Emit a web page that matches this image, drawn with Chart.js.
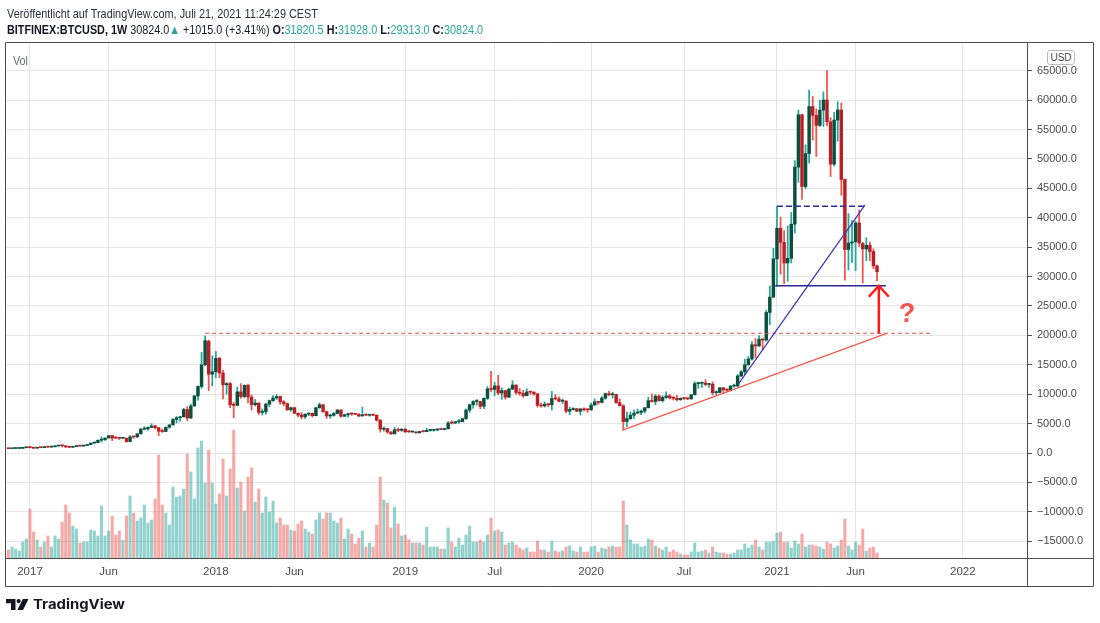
<!DOCTYPE html>
<html>
<head>
<meta charset="utf-8">
<script src="https://cdn.jsdelivr.net/npm/chart.js@4.4.1/dist/chart.umd.min.js"></script>
<style>
html,body{margin:0;padding:0;background:#fff;}
#wrap{position:relative;width:1100px;height:623px;overflow:hidden;background:#fff;}
#c{position:absolute;left:0;top:0;}
.t{position:absolute;white-space:nowrap;transform-origin:0 0;font-family:'Liberation Sans',Arial,sans-serif;line-height:15px;}
.g{color:#26a69a;}
#usd{position:absolute;left:1047px;top:50px;width:26px;height:13px;border:1px solid #b8bbc4;border-radius:3px;background:#fff;
 font:10px 'Liberation Sans',Arial,sans-serif;color:#4a4a4a;text-align:center;line-height:13px;box-sizing:content-box;}
</style>
</head>
<body>
<div id="wrap">
<canvas id="c" width="1100" height="623"></canvas>
<div id="h1" class="t" style="left:7px;top:6px;font-size:13px;color:#2a2e39;">Veröffentlicht auf TradingView.com, Juli 21, 2021 11:24:29 CEST</div>
<div id="h2" class="t" style="left:7px;top:22px;font-size:13px;color:#131722;"><b>BITFINEX:BTCUSD, 1W</b> 30824.0<span class="g">▲</span> +1015.0 (+3.41%) <b>O:</b><span class="g">31820.5</span> <b>H:</b><span class="g">31928.0</span> <b>L:</b><span class="g">29313.0</span> <b>C:</b><span class="g">30824.0</span></div>
<div id="vol" class="t" style="left:13px;top:54px;font-size:12px;color:#6a6d78;">Vol</div>
<div id="usd">USD</div>
<svg style="position:absolute;left:6px;top:599px" width="23" height="11" viewBox="0 0 23 11">
  <path d="M0 0H9.5V11H5V4.2H0Z" fill="#131722"/>
  <circle cx="12.6" cy="2.1" r="2.1" fill="#131722"/>
  <path d="M16.8 0H22.5L17 11H11.4Z" fill="#131722"/>
</svg>
<div id="logo" class="t" style="left:33px;top:596px;font-family:Inter,'Liberation Sans',sans-serif;font-weight:700;font-size:13px;line-height:16px;color:#131722;">TradingView</div>
</div>
<script>
// ---- weekly bars, BITFINEX:BTCUSD, first bar = week of 2016-11-21 (bar index -6 relative to week of 2017-01-02)
const firstWeek = '2016-11-21';
const firstIndex = -6;

const open = [
740,732,768,775,790,890,998,905,820,922,
915,1020,1000,1055,1180,1270,1230,1025,970,1100,
1185,1175,1250,1420,1690,1770,2180,2250,2550,2950,
2550,2530,2500,2520,1950,2750,2730,3250,4050,4100,
4350,4600,4300,3700,3660,4380,4780,5700,6000,6150,
7400,5950,8000,9700,11300,15000,19000,13400,13800,16100,
13600,11600,11800,8200,8100,10400,9600,11500,9500,8200,
8500,6900,7000,8300,8900,9350,9600,8700,8400,7350,
7700,6750,6450,6150,6600,6750,6350,7700,8200,7030,
6300,6400,6700,7300,6250,6500,6700,6620,6580,6300,
6500,6420,6480,6420,5580,4050,4150,3550,3250,3950,
3850,4050,3600,3580,3590,3420,3660,3640,3850,3860,
3930,4000,3990,4120,5100,5080,5300,5330,5850,7300,
8200,8750,8760,7950,9300,10950,10800,11400,10200,10600,
9500,10850,11550,10300,10150,9750,10380,10350,10050,8100,
8000,8300,8200,9250,9200,8800,8830,7100,7400,7520,
7100,7500,7350,7320,8150,8700,8600,9350,10100,9900,
9950,8550,8030,5350,5850,6420,6780,6900,7130,7700,
8900,8750,9680,8900,9450,9700,9350,9300,9050,9300,
9250,9200,9900,11800,11850,11900,11650,11700,10250,10300,
11080,10750,10670,11370,11400,13100,13800,15000,15980,18400,
18200,19350,19200,23900,26500,33000,38200,35800,32300,33100,
38900,48600,57500,45300,50900,58900,57400,55700,58300,60000,
56300,49100,56600,58300,46500,34600,35700,35900,39100,35600,
34700,35300,34250,31820.5];

const high = [
750,775,780,795,940,1000,1150,915,930,935,
1040,1060,1060,1200,1290,1330,1260,1060,1110,1210,
1220,1260,1430,1700,1850,2200,2750,2600,2980,2990,
2780,2570,2650,2550,2950,2800,3300,4180,4480,4450,
4980,4700,4350,4100,4400,4800,5850,6200,6200,7600,
7880,8300,9750,11400,17100,19900,19200,16500,17250,16300,
14100,12000,12000,8600,11200,11800,11600,11700,9900,9100,
8500,7500,8500,9000,9750,9950,9700,8900,8500,7800,
7800,6850,6850,6650,6850,6800,7750,8500,8250,7150,
6600,6900,7400,7400,6600,6800,6800,6700,6700,7780,
6650,6500,6600,6500,5700,4450,4200,3650,4350,4250,
4150,4150,3800,3660,3620,3700,3720,4200,3900,3950,
4050,4100,4150,5350,5500,5400,5700,5900,7500,8300,
8900,9100,8800,9400,11300,13900,12000,13200,11100,10700,
11000,12300,11600,10950,10650,10900,10450,10400,10100,8500,
8700,8450,10500,9950,9550,9150,8850,7800,7700,7600,
7550,7700,7550,8500,9200,8800,9600,10200,10500,10300,
10000,9200,8200,6950,6950,7300,7450,7300,7750,9500,
10050,9950,9900,9750,10400,9980,9600,9800,9350,9450,
9400,9950,12100,12050,12100,12450,11800,12100,10600,11150,
11180,10950,11500,11720,13350,14050,15950,16400,18950,19450,
19900,19450,24300,28400,34800,41950,40100,37800,38600,40900,
49700,58300,57600,52400,61700,60600,58500,60000,61400,65000,
57000,57900,59700,59500,46600,40700,39500,39400,41300,35800,
36600,35900,34700,31928];

const low = [
725,728,755,770,785,885,880,750,815,880,
910,960,990,1050,1175,1000,950,890,960,1090,
1150,1170,1245,1420,1620,1720,1850,2150,2540,2100,
2490,2300,2470,1830,1900,2500,2630,3230,3950,3900,
4300,4100,2950,3500,3650,4200,4750,5100,5400,6100,
5500,5850,7950,9000,11000,14800,10600,11400,12800,12800,
9200,10000,7700,6000,8000,9300,9400,8500,7300,8000,
6500,6450,6600,7850,8750,9100,8300,8000,7250,7050,
6700,6150,5780,5850,6350,6100,6300,7600,6900,5880,
5900,6250,6650,6100,6150,6100,6400,6500,6150,6250,
6400,6250,6350,5400,3550,3700,3350,3150,3250,3600,
3680,3480,3520,3480,3380,3400,3560,3600,3700,3700,
3800,3950,3930,4100,4930,5000,5050,5300,5700,6900,
7600,8100,7500,7550,9100,10400,9700,9900,9100,9150,
9400,10800,9950,9800,9450,9700,9950,9850,7800,7800,
7800,7850,7300,9000,8700,8400,6800,6500,7250,7000,
6450,7150,6900,7300,8100,8250,8500,9100,9700,9300,
8450,8000,3850,4450,5700,5880,6750,6500,6800,7650,
8650,8200,8800,8650,9300,9200,9000,8850,8950,9100,
9050,9150,9850,11000,11150,11400,11150,9850,9900,10200,
10150,10400,10550,11200,11250,12950,13300,14900,15800,16200,
18100,17600,19000,21800,26400,28300,30400,28800,29200,32300,
37400,46000,43100,44900,49300,53200,50400,55500,55500,55600,
47000,48800,53000,43800,29400,31100,32400,31000,35100,28900,
32700,32700,31300,29313];

const close = [
732,768,775,790,890,998,905,820,920,915,
1020,1000,1055,1180,1270,1230,1025,970,1100,1180,
1175,1250,1420,1690,1770,2180,2250,2550,2950,2550,
2530,2500,2520,1950,2750,2730,3250,4050,4100,4350,
4600,4300,3700,3660,4380,4780,5700,6000,6150,7400,
5950,8000,9700,11300,15000,19100,13400,13800,16100,13600,
11600,11800,8200,8100,10400,9600,11500,9500,8200,8500,
6900,7000,8300,8900,9350,9600,8700,8400,7350,7700,
6750,6450,6150,6600,6750,6350,7700,8200,7030,6300,
6400,6700,7300,6250,6500,6700,6620,6580,6300,6500,
6420,6480,6420,5580,4050,4150,3550,3250,3950,3850,
4050,3600,3580,3590,3420,3660,3640,3850,3860,3930,
4000,3990,4120,5100,5080,5300,5330,5850,7300,8200,
8750,8760,7950,9300,10900,10800,11400,10200,10600,9500,
10850,11550,10300,10150,9750,10380,10350,10050,8100,8000,
8300,8200,9250,9200,8800,8830,7100,7400,7520,7100,
7500,7350,7320,8150,8700,8600,9350,10100,9900,9950,
8550,8030,5350,5850,6420,6780,6900,7130,7700,8900,
8750,9680,8900,9450,9700,9350,9300,9050,9300,9250,
9200,9900,11800,11850,11900,11650,11700,10250,10300,11080,
10750,10670,11370,11400,13100,13800,15000,15980,18400,18200,
19350,19200,23900,26500,33000,38200,35800,32300,33100,38900,
48600,57500,45300,50900,58900,57400,55700,58300,60000,56300,
49100,56600,58300,46500,34600,35700,35900,39100,35700,34700,
35300,34250,31800,30824];

// weekly volume, thousands of BTC
const volume = [
8,11,9,7,16,19,49,26,18,11,
16,22,11,22,19,36,53,45,32,29,
15,16,16,28,27,22,52,22,27,42,
23,27,18,42,62,45,37,40,53,35,
38,59,103,53,45,33,71,61,62,69,
104,86,59,110,117,75,108,75,54,64,
99,62,89,128,70,76,47,81,90,56,
69,45,61,46,57,35,40,33,33,28,
27,34,37,29,26,24,38,45,39,45,
45,37,35,40,19,29,24,14,20,27,
11,15,11,33,81,58,55,30,51,34,
22,23,18,15,15,15,13,31,11,11,
11,9,9,30,16,11,20,13,23,32,
16,16,18,16,23,40,27,28,26,13,
15,16,13,10,8,10,6,6,17,8,
8,6,17,7,6,7,11,12,7,6,
11,6,6,11,12,6,10,9,11,12,
11,11,57,33,18,14,14,11,12,19,
18,12,10,8,11,6,8,6,4,3,
3,6,15,6,7,8,5,11,6,5,
5,4,4,5,8,8,14,10,13,18,
11,8,16,16,17,25,26,16,16,10,
17,14,24,11,13,13,12,11,9,16,
14,10,12,18,39,12,8,16,13,29,
7,10,11,5];

// time axis: bar index of the labelled weeks
const xTickWeeks  = [0, 22, 52, 74, 105, 130, 157, 183, 209, 231, 261];
const xTickLabels = ['2017','Jun','2018','Jun','2019','Jul','2020','Jul','2021','Jun','2022'];
const priceTicks = [-15000,-10000,-5000,0,5000,10000,15000,20000,25000,30000,35000,40000,45000,50000,55000,60000,65000];

// drawn annotations (bar index, price)
const resistance   = {from: 49, to: 252.6, price: 20350};
const supportTrend = {x1: 165.8, p1: 3880, x2: 239.7, p2: 20340};
const steepTrend   = {x1: 198.2, p1: 11700, x2: 233.6, p2: 42150};
const rangeTop     = {from: 209, to: 233.6, price: 41950};
const rangeLow     = {from: 208.5, to: 239.5, price: 28430};
const arrowMark    = {x: 237.5, from: 20350, to: 28430};
const questionMark = {x: 245.4, price: 23600, text: '?'};

// ---- build
const barIndex = open.map((_, i) => firstIndex + i);
const isUp = open.map((o, i) => close[i] >= o);

const UP_BODY = '#0b4f3d', DN_BODY = '#bb1e24';
const UP_WICK = '#26a69a', DN_WICK = '#f0534f';
const UP_VOL = 'rgba(38,166,154,0.5)', DN_VOL = 'rgba(239,83,80,0.5)';

const fmtPrice = v => (v < 0 ? '\u2212' : '') + Math.abs(v).toFixed(1);

const annotPlugin = {
  id: 'annot',
  afterDatasetsDraw(chart) {
    const {ctx, chartArea: a} = chart;
    const xs = chart.scales.x, ys = chart.scales.y;
    const X = v => xs.getPixelForValue(v), Y = v => ys.getPixelForValue(v);
    ctx.save();
    ctx.beginPath(); ctx.rect(a.left, a.top, a.right - a.left, a.bottom - a.top); ctx.clip();
    const seg = (x1, y1, x2, y2, color, w, dash) => {
      ctx.beginPath(); ctx.setLineDash(dash || []); ctx.strokeStyle = color; ctx.lineWidth = w;
      ctx.moveTo(x1, y1); ctx.lineTo(x2, y2); ctx.stroke();
    };
    seg(X(resistance.from), Y(resistance.price), X(resistance.to), Y(resistance.price), '#d9534b', 1, [4, 3]);
    seg(X(supportTrend.x1), Y(supportTrend.p1), X(supportTrend.x2), Y(supportTrend.p2), '#f55a4e', 1.3);
    seg(X(steepTrend.x1), Y(steepTrend.p1), X(steepTrend.x2), Y(steepTrend.p2), '#3a35b0', 1.2);
    seg(X(rangeTop.from), Y(rangeTop.price), X(rangeTop.to), Y(rangeTop.price), '#2d2a9c', 1.5, [6, 3]);
    seg(X(rangeLow.from), Y(rangeLow.price), X(rangeLow.to), Y(rangeLow.price), '#2d2a8f', 1.5);
    // arrow
    const ax = X(arrowMark.x), ay0 = Y(arrowMark.from), ay1 = Y(arrowMark.to);
    seg(ax, ay0, ax, ay1, '#ff1a1a', 2.5);
    ctx.beginPath(); ctx.setLineDash([]); ctx.strokeStyle = '#ff1a1a'; ctx.lineWidth = 2.5;
    ctx.moveTo(ax - 10, ay1 + 11); ctx.lineTo(ax, ay1); ctx.lineTo(ax + 10, ay1 + 11); ctx.stroke();
    // question mark
    ctx.fillStyle = '#f0544c';
    ctx.font = 'bold 27px "Liberation Sans", Arial, sans-serif';
    ctx.textAlign = 'center'; ctx.textBaseline = 'middle';
    ctx.fillText(questionMark.text, X(questionMark.x), Y(questionMark.price));
    ctx.restore();
  },
  afterDraw(chart) {
    const {ctx, chartArea: a} = chart;
    const right = chart.scales.y.right, bottom = chart.scales.x.bottom;
    ctx.save();
    ctx.strokeStyle = '#4d4d4d'; ctx.lineWidth = 1; ctx.setLineDash([]);
    ctx.beginPath();
    const L = Math.round(a.left) - 0.5, T = Math.round(a.top) - 0.5;
    const R = Math.round(a.right) + 0.5, B = Math.round(a.bottom) + 0.5;
    const RR = Math.round(right) + 0.5, BB = Math.round(bottom) + 0.5;
    ctx.moveTo(L, T); ctx.lineTo(RR, T);
    ctx.moveTo(L, T); ctx.lineTo(L, BB);
    ctx.moveTo(RR, T); ctx.lineTo(RR, BB);
    ctx.moveTo(R, T); ctx.lineTo(R, BB);
    ctx.moveTo(L, B); ctx.lineTo(RR, B);
    ctx.moveTo(L, BB); ctx.lineTo(RR, BB);
    ctx.stroke();
    ctx.restore();
  }
};

Chart.defaults.font.family = "'Liberation Sans', Arial, sans-serif";

new Chart(document.getElementById('c'), {
  type: 'bar',
  data: {
    datasets: [
      {
        label: 'Vol', yAxisID: 'yVol', order: 3, grouped: false, barThickness: 2.4, borderWidth: 0,
        data: volume.map((v, i) => ({x: barIndex[i], y: v})),
        backgroundColor: isUp.map(u => u ? UP_VOL : DN_VOL)
      },
      {
        label: 'Wick', yAxisID: 'y', order: 2, grouped: false, barThickness: 1.1, borderWidth: 0,
        data: high.map((h, i) => ({x: barIndex[i], y: [low[i], h]})),
        backgroundColor: isUp.map(u => u ? UP_WICK : DN_WICK)
      },
      {
        label: 'Body', yAxisID: 'y', order: 1, grouped: false, barThickness: 2.8, borderWidth: 0, minBarLength: 1,
        data: open.map((o, i) => ({x: barIndex[i], y: [o, close[i]]})),
        backgroundColor: isUp.map(u => u ? UP_BODY : DN_BODY)
      }
    ]
  },
  options: {
    responsive: false,
    animation: false,
    layout: {padding: {left: 6, top: 43, right: 7, bottom: 37}},
    plugins: {legend: {display: false}, tooltip: {enabled: false}},
    scales: {
      x: {
        type: 'linear', min: -6.715, max: 278.96, offset: false,
        grid: {color: '#e6e6e6', drawTicks: false, offset: false},
        border: {display: false},
        afterBuildTicks: s => { s.ticks = xTickWeeks.map(v => ({value: v})); },
        afterFit: s => { s.height = 28; },
        ticks: {
          autoSkip: false, maxRotation: 0, padding: 7, color: '#4a4a4a',
          font: {size: 11.5},
          callback: v => { const k = xTickWeeks.indexOf(v); return k >= 0 ? xTickLabels[k] : ''; }
        }
      },
      y: {
        position: 'right', min: -17850, max: 69700,
        afterBuildTicks: s => { s.ticks = priceTicks.map(v => ({value: v})); },
        afterFit: s => { s.width = 66; },
        grid: {color: '#e6e6e6', tickLength: 5, tickColor: '#4d4d4d'},
        border: {display: false},
        ticks: {padding: 5, color: '#4a4a4a', font: {size: 11}, callback: v => fmtPrice(v)}
      },
      yVol: {display: false, min: 0, max: 515}
    }
  },
  plugins: [annotPlugin]
});

function fitWidth(id, w) {
  const el = document.getElementById(id);
  el.style.transform = 'none';
  const cw = el.getBoundingClientRect().width;
  if (cw > 0) el.style.transform = 'scaleX(' + (w / cw) + ')';
}
function fitAll() { fitWidth('h1', 311); fitWidth('h2', 476); fitWidth('logo', 92); fitWidth('vol', 15); }
fitAll();
if (document.fonts && document.fonts.ready) document.fonts.ready.then(fitAll);
</script>
</body>
</html>
